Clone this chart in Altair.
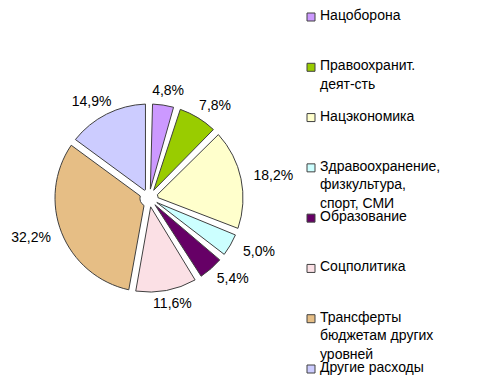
import altair as alt
import pandas as pd

categories = ["Нацоборона", "Правоохранит.\nдеят-сть", "Нацэкономика",
              "Здравоохранение,\nфизкультура,\nспорт, СМИ", "Образование",
              "Соцполитика", "Трансферты\nбюджетам других\nуровней", "Другие расходы"]
values = [4.8, 7.8, 18.2, 5.0, 5.4, 11.6, 32.2, 14.9]
colors = ["#CC99FF", "#99CC00", "#FFFFCC", "#CCFFFF", "#660066",
          "#FBE0E5", "#E6BE85", "#CCCCFF"]

labels = [f"{v:.1f}".replace(".", ",") + "%" for v in values]
df = pd.DataFrame({"cat": categories, "val": values, "lab": labels,
                   "idx": list(range(len(values)))})

CX, CY, R = 141, 190, 94
RX, RY = 127, 108   # label ellipse radii
FONT = "Liberation Sans"

color = alt.Color("cat:N", scale=alt.Scale(domain=categories, range=colors), legend=None)

pie = alt.Chart(df).mark_arc(outerRadius=R, innerRadius=9, padAngle=0.075,
                             stroke="#404040", strokeWidth=1).encode(
    theta=alt.Theta("val:Q", stack=True),
    order=alt.Order("idx:Q"),
    color=color, x=alt.value(CX), y=alt.value(CY))

txt = alt.Chart(df).transform_joinaggregate(
    tot="sum(val)"
).transform_window(
    cum="sum(val)", sort=[alt.SortField("idx")], frame=[None, 0]
).transform_calculate(
    mid="(datum.cum - datum.val/2) / datum.tot * 2 * PI",
    lx=f"{CX} + {RX} * sin(datum.mid)",
    ly=f"{CY} - {RY} * cos(datum.mid)",
).mark_text(font=FONT, fontSize=14, color="#000").encode(
    text="lab:N",
    x=alt.X("lx:Q", scale=None, axis=None),
    y=alt.Y("ly:Q", scale=None, axis=None))

yscale = alt.Scale(domain=[0, 7], range=[9, 361])
leg_sym = alt.Chart(df).mark_square(size=64, stroke="#404040", strokeWidth=1, opacity=1).encode(
    x=alt.value(303), y=alt.Y("idx:Q", scale=yscale, axis=None), color=color)
leg_txt = alt.Chart(df).mark_text(align="left", baseline="top", dy=-8, font=FONT, fontSize=14,
                                  lineBreak="\n", lineHeight=18.5, color="#000").encode(
    x=alt.value(312), y=alt.Y("idx:Q", scale=yscale, axis=None), text="cat:N")

legend = alt.layer(leg_sym, leg_txt)

chart = alt.layer(pie, txt, legend).resolve_scale(y="independent", x="independent").properties(
    width=472, height=374, padding=0, autosize="none", background="white"
).configure_view(stroke=None)

chart.save("out.html", embed_options={"renderer": "svg", "actions": False})
